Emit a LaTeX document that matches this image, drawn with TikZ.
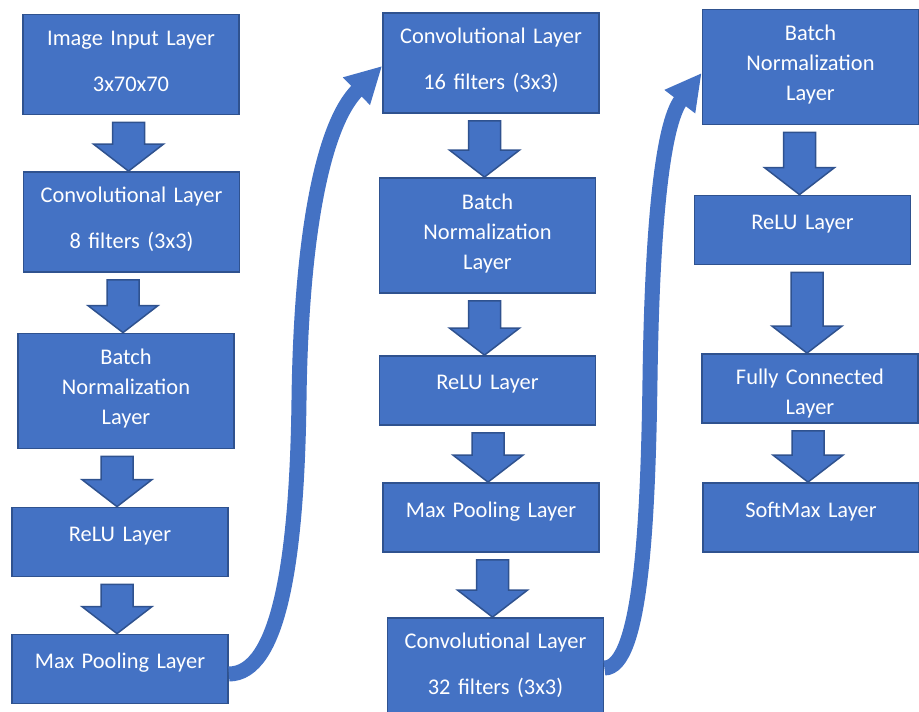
\documentclass[tikz,border=0pt]{standalone}
\usepackage{fontspec}
\setmainfont{Carlito}
\usetikzlibrary{arrows.meta,calc}
\definecolor{layerblue}{HTML}{4472C4}
\definecolor{layeredge}{HTML}{2F528F}
\tikzset{
  layer/.style={draw=layeredge,fill=layerblue,line width=1.8pt,text=white,
    minimum width=216pt,text width=216pt,inner sep=0pt,align=center,
    font=\fontsize{22.4}{30}\selectfont},
  lift/.style={execute at end node={\par\kern#1}},
  threeline/.style={layer,lift=4pt,minimum height=115pt},
  twoline/.style={layer,lift=6pt,minimum height=100pt},
  oneline/.style={layer,lift=12pt,minimum height=69pt},
  blockarrow/.style={draw=layeredge,fill=layerblue,line width=1.5pt,line join=miter},
  curvearrow/.style={draw=layerblue,line width=15pt,-{Triangle[length=36pt,width=36pt]}}
}
% block arrow from one layer down to the next
\newcommand{\flowdown}[2]{%
  \path[blockarrow] let \p1=(#1.south), \p2=(#2.north) in
    ({\x2-19pt},{\y1-7pt}) -- ({\x2+13pt},{\y1-7pt}) -- ({\x2+13pt},{\y2+27pt})
    -- ({\x2+32pt},{\y2+27pt}) -- ({\x2-3pt},\y2) -- ({\x2-38pt},{\y2+27pt})
    -- ({\x2-19pt},{\y2+27pt}) -- cycle;}

\begin{document}
\begin{tikzpicture}[x=1pt,y=-1pt]
\useasboundingbox (0,0) rectangle (919,712);
% first column
\node[twoline] (in1) at (131,64.5) {Image Input Layer\\[16pt]3x70x70};
\node[twoline] (conv1) at (131.5,222) {Convolutional Layer\\[16pt]8 filters (3x3)};
\node[threeline] (bn1) at (126,391) {Batch\\Normalization\\Layer};
\node[oneline] (relu1) at (120,542) {ReLU Layer};
\node[oneline] (pool1) at (120,669) {Max Pooling Layer};
% second column
\node[twoline] (conv2) at (491,63) {Convolutional Layer\\[16pt]16 filters (3x3)};
\node[threeline] (bn2) at (487.5,235.5) {Batch\\Normalization\\Layer};
\node[oneline] (relu2) at (487.5,390.5) {ReLU Layer};
\node[oneline] (pool2) at (491,517.5) {Max Pooling Layer};
\node[twoline] (conv3) at (495.5,668) {Convolutional Layer\\[16pt]32 filters (3x3)};
% third column
\node[threeline] (bn3) at (810.5,67) {Batch\\Normalization\\Layer};
\node[oneline] (relu3) at (802.5,230) {ReLU Layer};
\node[layer,lift=-10pt,minimum height=69pt] (fc) at (810,388.5) {Fully Connected\\Layer};
\node[oneline] (soft) at (811,517.5) {SoftMax Layer};
% arrows inside the columns
\flowdown{in1}{conv1}
\flowdown{conv1}{bn1}
\flowdown{bn1}{relu1}
\flowdown{relu1}{pool1}
\flowdown{conv2}{bn2}
\flowdown{bn2}{relu2}
\flowdown{relu2}{pool2}
\flowdown{pool2}{conv3}
\flowdown{bn3}{relu3}
\flowdown{relu3}{fc}
\flowdown{fc}{soft}
% arrows between the columns
\coordinate (bend1) at (299,400);
\coordinate (bend2) at (650,380);
\draw[curvearrow] ([yshift=-5pt]pool1.east) .. controls +(50,0) and (297,560) .. (bend1)
  .. controls (301,240) and (322,125) .. ([yshift=-3pt]conv2.west);
\draw[curvearrow] (conv3.east) .. controls +(37,0) and (648,520) .. (bend2)
  .. controls (652,230) and (662,125) .. ([yshift=-6pt]bn3.west);
\end{tikzpicture}
\end{document}
